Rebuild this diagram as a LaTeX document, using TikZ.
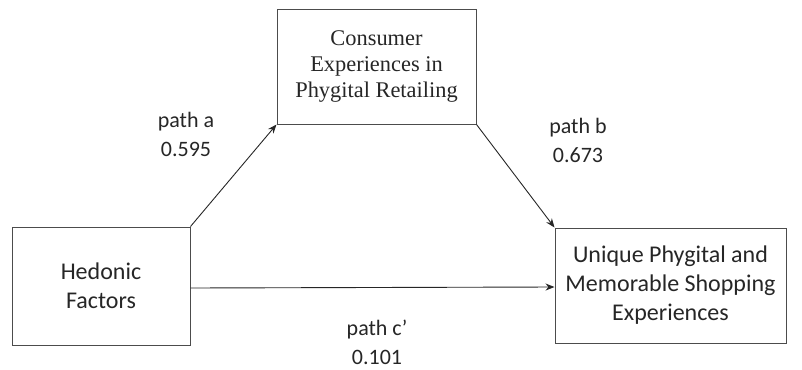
\documentclass[tikz,border=0pt]{standalone}
\usepackage{fontspec}
\setmainfont{Carlito}
\newfontfamily\serifbox{Liberation Serif}
\usetikzlibrary{arrows.meta,calc}
\begin{document}
\begin{tikzpicture}[x=1pt,y=-1pt,
  box/.style={draw=black!70,line width=1pt,inner sep=0pt,align=center,text=black!85},
  link/.style={draw=black!85,line width=0.9pt,-{Stealth[length=9pt,width=7pt]}},
  lbl/.style={align=center,text=black!85,inner sep=1pt,font=\fontsize{22}{29}\selectfont}]
\useasboundingbox (0,0) rectangle (802,369);
% variable boxes
\node[box,minimum width=199pt,minimum height=114pt,
      font=\serifbox\fontsize{22.4}{26}\selectfont] (med) at (376.5,67)
  {Consumer\\Experiences in\\Phygital Retailing};
\node[box,minimum width=178pt,minimum height=118pt,
      font=\fontsize{24}{29.5}\selectfont] (hed) at (101,286)
  {Hedonic\\Factors};
\node[box,minimum width=231pt,minimum height=115pt,
      font=\fontsize{24}{29}\selectfont] (out) at (670.5,285.5)
  {Unique Phygital and\\Memorable Shopping\\Experiences};
% paths
\draw[link] (hed.north east) -- (med.south west);
\draw[link] (med.south east) -- (out.north west);
\draw[link] ($(hed.east)+(0,2)$) -- ($(out.west)+(0,1.5)$);
% coefficients
\node[lbl] (la) at (186,134) {path a\\0.595};
\node[lbl] (lb) at (578,140) {path b\\0.673};
\node[lbl] (lc) at (377,342) {path c’\\0.101};
\end{tikzpicture}
\end{document}
